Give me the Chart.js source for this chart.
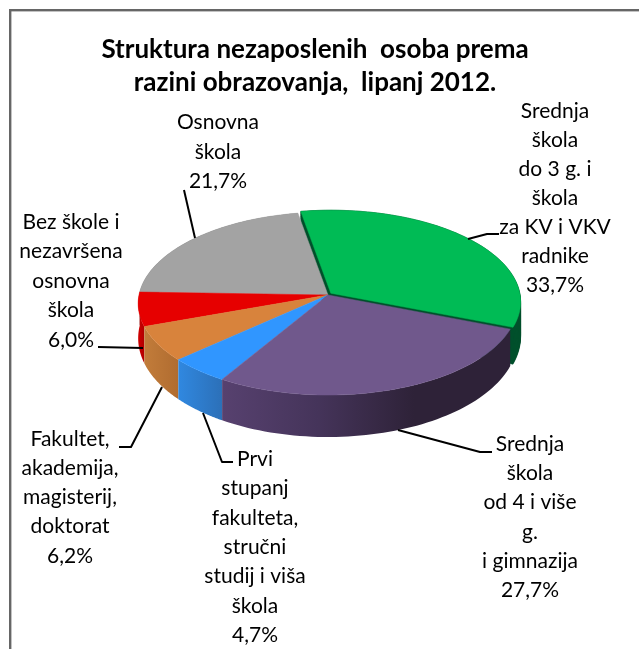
<!DOCTYPE html>
<html><head><meta charset="utf-8">
<style>html,body{margin:0;padding:0;background:#fff}canvas{display:block}</style>
<script src="https://cdn.jsdelivr.net/npm/chart.js@4/dist/chart.umd.js"></script>
</head><body><canvas id="c" width="639" height="649"></canvas>
<script>
const titleLines = ["Struktura nezaposlenih  osoba prema", "razini obrazovanja,  lipanj 2012."];
const categories = [
  ["Srednja","škola","do 3 g. i","škola","za KV i VKV","radnike"],
  ["Srednja","škola","od 4 i više","g.","i gimnazija"],
  ["Prvi","stupanj","fakulteta,","stručni","studij i viša","škola"],
  ["Fakultet,","akademija,","magisterij,","doktorat"],
  ["Bez škole i","nezavršena","osnovna","škola"],
  ["Osnovna","škola"]
];
const values = [33.7, 27.7, 4.7, 6.2, 6.0, 21.7];
const topColors = ["#00BB55","#70588C","#3096FF","#D8833C","#E60000","#A3A3A3"];
const wallStops = [
  ["#00502C","#004A28"],
  ["#57416F","#45345A","#2E2238","#2E2238"],
  ["#3088E0","#2C70B8"],
  ["#C27C3A","#B06C30"],
  ["#D00000","#B00000"],
  ["#6E6E6E","#6E6E6E"]
];
// label layout: centre x, first line centre y, line pitch
const labelPos = [[555,111,29.0],[530,444,29.3],[255,459,29.4],[70,439,29.2],[71,222,29.5],[218,122,29.8]];
const leaders = [
  [[468,239],[487,234],[499,234]],
  [[398,430],[480,452],[492,452]],
  [[203,413],[222,462],[233,462]],
  [[162,387],[131,447],[119,447]],
  [[143,348],[98,347]],
  [[195,238],[184,190]]
];
const FONT = "Lato, Carlito, Calibri, sans-serif";
const tilt = 0.48, persp = 0.093, depthBase = 34, depthGain = 8, explode = [2.8,-1.8], explodedIndex = 0;

const pie3d = {
  id:"pie3d",
  beforeDatasetDraw(chart){
    const ctx = chart.ctx, arcs = chart.getDatasetMeta(0).data;
    const P = (arc,a,dx,dy,lift)=>{
      const u=Math.cos(a), v=Math.sin(a), w=1-persp*v;
      const d = lift*(depthBase+depthGain*v);
      return [arc.x+arc.outerRadius*u/w+dx, arc.y+arc.outerRadius*tilt*v/w+dy+d];
    };
    const shift = i => i===explodedIndex ? explode : [0,0];
    const samples = (arc,i,lift)=>{
      const [dx,dy]=shift(i), pts=[], n=60;
      for(let k=0;k<=n;k++) pts.push(P(arc,arc.startAngle+(arc.endAngle-arc.startAngle)*k/n,dx,dy,lift));
      return pts;
    };
    const wedge = (arc,i,lift,color)=>{
      const [dx,dy]=shift(i), pts=samples(arc,i,lift);
      ctx.beginPath(); ctx.moveTo(arc.x+dx,arc.y+dy+lift*depthBase);
      pts.forEach(p=>ctx.lineTo(p[0],p[1])); ctx.closePath();
      ctx.fillStyle=color; ctx.fill();
      ctx.strokeStyle=color; ctx.lineWidth=0.5; ctx.stroke();
    };
    const wall = (arc,i)=>{
      const a=samples(arc,i,0), b=samples(arc,i,1);
      const xs=a.map(p=>p[0]); const g=ctx.createLinearGradient(Math.min(...xs),0,Math.max(...xs),0);
      const s=wallStops[i]; s.forEach((c,k)=>g.addColorStop(k/(s.length-1),c));
      ctx.beginPath(); a.forEach((p,k)=>k?ctx.lineTo(p[0],p[1]):ctx.moveTo(p[0],p[1]));
      b.reverse().forEach(p=>ctx.lineTo(p[0],p[1])); ctx.closePath();
      ctx.fillStyle=g; ctx.fill();
    };
    ctx.save();
    for(let t=40;t>=0;t--) wedge(arcs[explodedIndex],explodedIndex,t/40,wallStops[explodedIndex][0]);
    [5,4,3,2,1].forEach(i=>wall(arcs[i],i));
    [5,4,3,2,1,0].forEach(i=>wedge(arcs[i],i,0,arcs[i].options.backgroundColor));
    ctx.restore();
    return false;
  },
  afterDraw(chart){
    const ctx = chart.ctx;
    ctx.save();
    // frame
    ctx.fillStyle="#666666";
    ctx.fillRect(9,9,630,2.4); ctx.fillRect(9,9,2.4,640);
    // title
    ctx.fillStyle="#000"; ctx.textAlign="center"; ctx.textBaseline="middle";
    ctx.font="bold 26px "+FONT;
    titleLines.forEach((t,i)=>ctx.fillText(t,315,50+i*33));
    // labels
    ctx.font="21px "+FONT;
    categories.forEach((lines,i)=>{
      const [x,y,h]=labelPos[i];
      const all=lines.concat(values[i].toFixed(1).replace(".",",")+"%");
      all.forEach((t,k)=>ctx.fillText(t,x,y+k*h));
    });
    // leaders
    ctx.strokeStyle="#000"; ctx.lineWidth=2; ctx.lineJoin="round";
    leaders.forEach(l=>{ctx.beginPath();l.forEach((p,k)=>k?ctx.lineTo(p[0],p[1]):ctx.moveTo(p[0],p[1]));ctx.stroke();});
    ctx.restore();
  }
};

new Chart(document.getElementById("c"),{
  type:"pie",
  data:{labels:categories.map(c=>c.join(" ")),datasets:[{data:values,backgroundColor:topColors,borderWidth:0}]},
  options:{
    responsive:false,animation:false,rotation:-10,
    layout:{padding:{left:139,right:122,top:106,bottom:165}},
    plugins:{legend:{display:false},tooltip:{enabled:false},title:{display:false}}
  },
  plugins:[pie3d]
});
</script></body></html>
